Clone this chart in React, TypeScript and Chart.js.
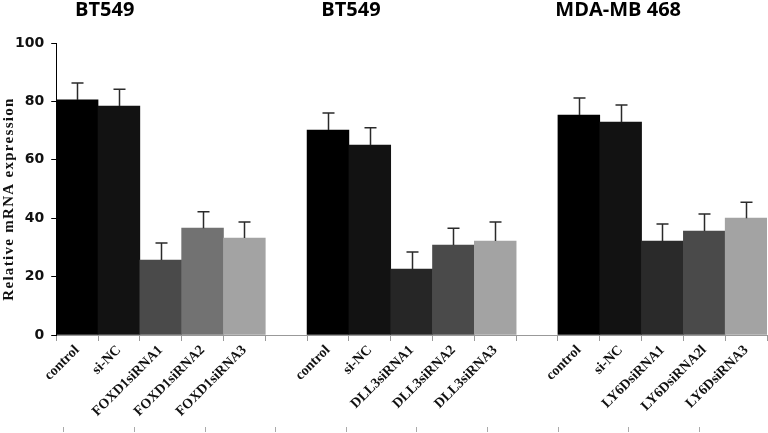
import React, { useEffect, useRef } from "react";
import { Chart, registerables } from "chart.js";

Chart.register(...registerables);

const categories = [
  "control", "si-NC", "FOXD1siRNA1", "FOXD1siRNA2", "FOXD1siRNA3", "",
  "control", "si-NC", "DLL3siRNA1", "DLL3siRNA2", "DLL3siRNA3", "",
  "control", "si-NC", "LY6DsiRNA1", "LY6DsiRNA2l", "LY6DsiRNA3",
];
const values = [80.5, 78.4, 25.7, 36.6, 33.2, null, 70.2, 65, 22.6, 30.8, 32.2, null, 75.3, 72.9, 32.2, 35.6, 40];
const errors = [5.8, 5.8, 5.8, 5.6, 5.5, null, 5.8, 6, 5.8, 5.8, 6.5, null, 5.9, 5.9, 5.8, 5.8, 5.5];
const barColors = [
  "#000000", "#121212", "#4a4a4a", "#727272", "#a3a3a3", "#ffffff",
  "#000000", "#121212", "#262626", "#4a4a4a", "#a3a3a3", "#ffffff",
  "#000000", "#121212", "#2a2a2a", "#4a4a4a", "#a3a3a3",
];
const groupTitles = ["BT549", "BT549", "MDA-MB 468"];
const titleAnchors = [0.66, 6.55, 12.94];
const yTicks = [0, 20, 40, 60, 80, 100];
const bottomMarks = [0, 1, 2, 3, 4, 5, 6, 7, 8];
const yTitle = "Relative mRNA expression";

const overlayPlugin = {
  id: "overlay",
  afterDatasetsDraw(chart: any) {
    const { ctx, scales } = chart;
    const y = scales.y;
    const meta = chart.getDatasetMeta(0);
    ctx.save();
    ctx.strokeStyle = "#2a2a2a";
    ctx.lineWidth = 1.5;
    values.forEach((v, i) => {
      if (v == null || errors[i] == null) return;
      const bar = meta.data[i];
      const cx = Math.round(bar.x) + 0.5;
      const top = y.getPixelForValue(v);
      const cap = y.getPixelForValue(v + (errors[i] as number));
      ctx.beginPath();
      ctx.moveTo(cx, top);
      ctx.lineTo(cx, cap);
      ctx.moveTo(cx - 6, cap);
      ctx.lineTo(cx + 6, cap);
      ctx.stroke();
    });
    ctx.restore();
  },
  afterDraw(chart: any) {
    const { ctx, scales, chartArea } = chart;
    const x = scales.x;
    ctx.save();
    ctx.fillStyle = "#000";
    ctx.font = "bold 20px 'Open Sans'";
    ctx.textAlign = "center";
    ctx.textBaseline = "middle";
    groupTitles.forEach((t, i) => {
      ctx.fillText(t, x.getPixelForValue(titleAnchors[i]), chartArea.top - 33);
    });
    ctx.restore();

    ctx.save();
    ctx.fillStyle = "#111";
    ctx.font = "bold 15px 'Liberation Serif'";
    try { (ctx as any).letterSpacing = "1.3px"; } catch (e) {}
    ctx.textAlign = "center";
    ctx.textBaseline = "middle";
    ctx.translate(9, (chartArea.top + chartArea.bottom) / 2 + 10);
    ctx.rotate(-Math.PI / 2);
    ctx.fillText(yTitle, 0, 0);
    ctx.restore();
  },
};

export default function App() {
  const ref = useRef<HTMLCanvasElement | null>(null);
  useEffect(() => {
    if (!ref.current) return;
    const chart = new Chart(ref.current, {
      type: "bar",
      data: {
        labels: categories,
        datasets: [
          {
            data: values,
            backgroundColor: barColors,
            borderWidth: 0,
            barPercentage: 1,
            categoryPercentage: 1,
          },
        ],
      },
      options: {
        animation: false,
        responsive: true,
        maintainAspectRatio: false,
        layout: { padding: { top: 43, right: 1, left: 8, bottom: 1 } },
        plugins: { legend: { display: false }, tooltip: { enabled: false } },
        scales: {
          x: {
            type: "category",
            offset: true,
            weight: 0,
            afterFit: (s: any) => {
              s.height = 92;
            },
            grid: { display: true, drawOnChartArea: false, offset: true, tickLength: 6, color: "#999" },
            border: { color: "#999", width: 1 },
            ticks: {
              font: { family: "'Liberation Serif'", weight: "bold", size: 14 },
              color: "#111",
              maxRotation: 45,
              minRotation: 45,
              padding: 1,
              autoSkip: false,
            },
          },
          x2: {
            type: "linear",
            position: "bottom",
            weight: 1,
            min: -0.05,
            max: 8.9,
            afterBuildTicks: (s: any) => {
              s.ticks = bottomMarks.map((v) => ({ value: v }));
            },
            afterFit: (s: any) => {
              s.height = 5;
            },
            grid: { drawOnChartArea: false, tickLength: 5, color: "#aaa" },
            border: { display: false },
            ticks: { display: false, autoSkip: false },
          },
          y: {
            min: 0,
            max: 100,
            afterBuildTicks: (s: any) => {
              s.ticks = yTicks.map((v) => ({ value: v }));
            },
            grid: { drawOnChartArea: false, tickLength: 5, color: "#000" },
            border: { color: "#000", width: 1 },
            ticks: {
              font: { family: "'DejaVu Sans'", weight: "bold", size: 14 },
              color: "#111",
              padding: 7,
            },
          },
        },
      },
      plugins: [overlayPlugin],
    });
    return () => chart.destroy();
  }, []);
  return (
    <div style={{ position: "absolute", left: 0, top: 0, width: 768, height: 433, background: "#fff" }}>
      <canvas ref={ref} />
    </div>
  );
}
